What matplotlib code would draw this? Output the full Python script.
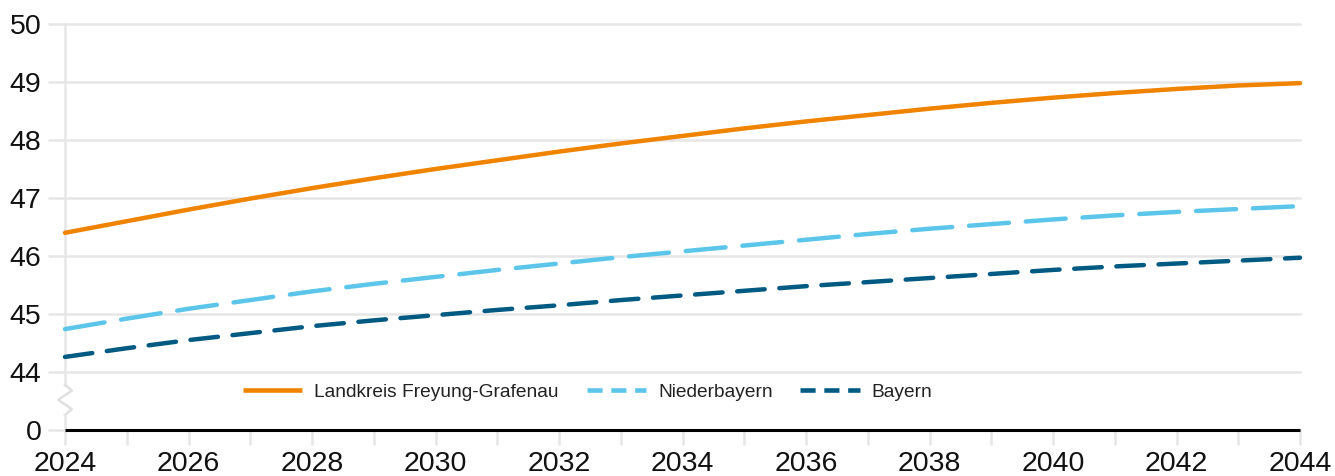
import matplotlib
matplotlib.use("Agg")
import matplotlib.pyplot as plt
from matplotlib.lines import Line2D

years = list(range(2024, 2045))
landkreis = [46.40, 46.60, 46.80, 46.99, 47.17, 47.34, 47.50, 47.65, 47.80, 47.94,
             48.07, 48.20, 48.32, 48.43, 48.54, 48.64, 48.73, 48.81, 48.88, 48.94, 48.98]
niederbayern = [44.74, 44.92, 45.09, 45.24, 45.39, 45.52, 45.64, 45.76, 45.87, 45.98,
                46.08, 46.18, 46.28, 46.38, 46.47, 46.55, 46.63, 46.70, 46.76, 46.81, 46.86]
bayern = [44.26, 44.41, 44.55, 44.67, 44.79, 44.89, 44.98, 45.07, 45.15, 45.24,
          45.32, 45.40, 45.48, 45.55, 45.62, 45.69, 45.76, 45.82, 45.87, 45.92, 45.97]
series_names = ["Landkreis Freyung-Grafenau", "Niederbayern", "Bayern"]
ytick_pos = [43, 44, 45, 46, 47, 48, 49, 50]
ytick_labels = ["0", "44", "45", "46", "47", "48", "49", "50"]
xtick_labels = [str(y) if y % 2 == 0 else "" for y in years]

ORANGE = "#F08300"
LIGHT = "#5BC5EA"
DARK = "#005A82"
GRID = "#E6E6E6"

plt.rcParams['font.family'] = ['Liberation Sans', 'DejaVu Sans']

fig = plt.figure(figsize=(13.35, 4.76), dpi=100)
W, H = 1335, 476
ax = fig.add_axes([65 / W, 1 - 430 / H, (1300 - 65) / W, (430 - 24) / H])
ax.set_xlim(2024, 2044)
ax.set_ylim(43, 50)

for s in ax.spines.values():
    s.set_visible(False)

ax.set_yticks(ytick_pos)
ax.set_yticklabels(ytick_labels, fontsize=20.5, color="#111111")
ax.set_xticks(years)
ax.set_xticklabels(xtick_labels, fontsize=20.5, color="#111111")
ax.tick_params(axis='y', length=12, width=1.8, color=GRID, pad=5)
ax.tick_params(axis='x', length=11, width=1.8, color=GRID, pad=4)
ax.grid(axis='y', color=GRID, linewidth=1.8)
for gl in ax.get_ygridlines():
    gl.set_clip_on(False)
ax.set_axisbelow(True)

# broken left axis line with zigzag
ZZ = "#E0E0E0"
ax.plot([2024, 2024], [50, 43.78], color=GRID, lw=1.8, clip_on=False, zorder=1)
zx = [2024, 2024.11, 2023.89, 2024.11, 2024]
zy = [43.78, 43.68, 43.52, 43.36, 43.26]
ax.plot(zx, zy, color=ZZ, lw=1.8, clip_on=False, zorder=1)
ax.plot([2024, 2024], [43.26, 43], color=GRID, lw=1.8, clip_on=False, zorder=1)

# zero baseline
ax.plot([2024, 2044], [43, 43], color="black", lw=2.2, clip_on=False, zorder=3,
        solid_capstyle='butt')

lw = 3.2
ax.plot(years, landkreis, color=ORANGE, lw=lw, solid_capstyle='round', clip_on=False, zorder=4)
ax.plot(years, niederbayern, color=LIGHT, lw=lw, dashes=(9.0, 3.8), dash_capstyle='round',
        clip_on=False, zorder=4)
ax.plot(years, bayern, color=DARK, lw=lw, dashes=(6.2, 3.3), dash_capstyle='round',
        clip_on=False, zorder=4)

handles = [
    Line2D([], [], color=ORANGE, lw=3.3, solid_capstyle='butt'),
    Line2D([], [], color=LIGHT, lw=3.3, dashes=(3.3, 1.9), dash_capstyle='butt'),
    Line2D([], [], color=DARK, lw=3.3, dashes=(3.3, 1.9), dash_capstyle='butt'),
]
leg = fig.legend(handles, series_names, loc='center left',
                 bbox_to_anchor=(243 / W, 1 - 392 / H), ncol=3, frameon=False,
                 fontsize=13.8, handlelength=3.1, handletextpad=0.62,
                 columnspacing=1.45, borderpad=0, borderaxespad=0)
for t in leg.get_texts():
    t.set_color("#222222")

fig.savefig("out.png", dpi=100)
